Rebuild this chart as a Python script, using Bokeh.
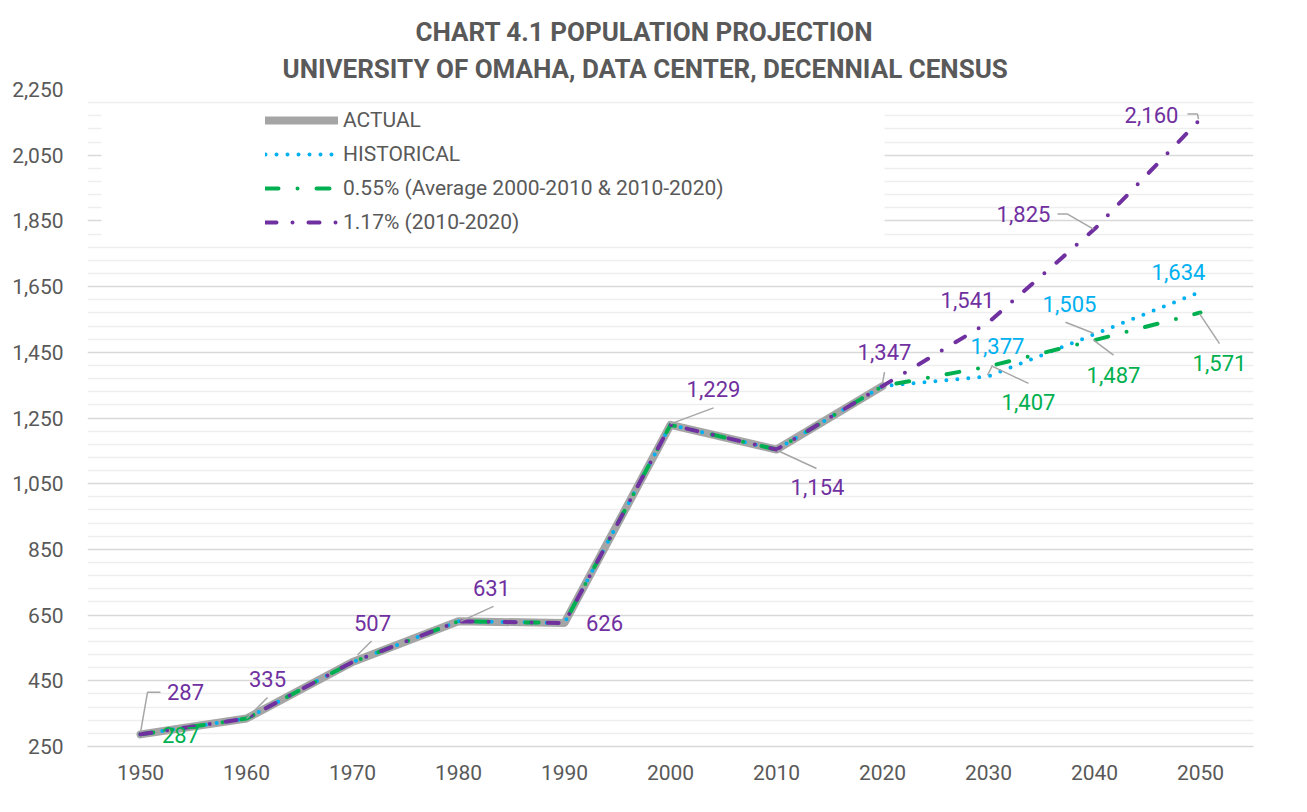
from bokeh.plotting import figure
from bokeh.models import (Range1d, FixedTicker, NumeralTickFormatter, ColumnDataSource,
                          LabelSet, Legend, LegendItem, BoxAnnotation, Title)
from bokeh.embed import file_html
from bokeh.resources import INLINE
from bokeh.core.properties import value

# ---------------- data ----------------
years = [1950, 1960, 1970, 1980, 1990, 2000, 2010, 2020, 2030, 2040, 2050]
actual = [287, 335, 507, 631, 626, 1229, 1154, 1347]
historical = [287, 335, 507, 631, 626, 1229, 1154, 1347, 1377, 1505, 1634]
avg055 = [287, 335, 507, 631, 626, 1229, 1154, 1347, 1407, 1487, 1571]
rate117 = [287, 335, 507, 631, 626, 1229, 1154, 1347, 1541, 1825, 2160]
y_ticks = [250, 450, 650, 850, 1050, 1250, 1450, 1650, 1850, 2050, 2250]
series_names = ["ACTUAL", "HISTORICAL", "0.55% (Average 2000-2010 & 2010-2020)", "1.17% (2010-2020)"]
title_lines = ["CHART 4.1 POPULATION PROJECTION", "UNIVERSITY OF OMAHA, DATA CENTER, DECENNIAL CENSUS"]

# ---------------- style ----------------
GREY_TXT = "#595959"
C_ACT = "#A5A5A5"
C_HIST = "#00B0F0"
C_AVG = "#00B050"
C_RATE = "#7030A0"
FONT = "Roboto"

FW, FH = 1166, 657          # frame size in px
X0, X1 = 1945, 2055
Y0, Y1 = 250, 2250
PX_X = (X1 - X0) / FW
PX_Y = (Y1 - Y0) / FH

y_minor = [t + 40 * k for t in y_ticks[:-1] for k in range(1, 5)]

p = figure(width=1291, height=796, x_range=Range1d(X0, X1), y_range=Range1d(Y0, Y1),
           output_backend="svg", toolbar_location=None,
           min_border_left=87, min_border_right=38, min_border_top=89, min_border_bottom=50)
p.outline_line_color = None
p.background_fill_color = "white"
p.border_fill_color = "white"

# y axis
p.yaxis.ticker = FixedTicker(ticks=y_ticks, minor_ticks=y_minor)
p.yaxis.formatter = NumeralTickFormatter(format="0,0")
p.yaxis.axis_line_color = None
p.yaxis.major_tick_line_color = None
p.yaxis.minor_tick_line_color = None
p.yaxis.major_tick_out = 0
p.yaxis.minor_tick_out = 0
p.yaxis.major_label_standoff = 24
p.yaxis.major_label_text_font = FONT
p.yaxis.major_label_text_font_size = "21px"
p.yaxis.major_label_text_color = GREY_TXT
p.ygrid.grid_line_color = "#D9D9D9"
p.ygrid.grid_line_width = 1.5
p.ygrid.minor_grid_line_color = "#EEEEEE"
p.ygrid.minor_grid_line_width = 1.5

# x axis
p.xaxis.ticker = FixedTicker(ticks=years)
p.xaxis.axis_line_color = "#D9D9D9"
p.xaxis.axis_line_width = 1.5
p.xaxis.major_tick_line_color = None
p.xaxis.minor_tick_line_color = None
p.xaxis.major_tick_out = 0
p.xaxis.minor_tick_out = 0
p.xaxis.major_label_standoff = 18
p.xaxis.major_label_text_font = FONT
p.xaxis.major_label_text_font_size = "21px"
p.xaxis.major_label_text_color = GREY_TXT
p.xgrid.grid_line_color = None

# lines
r_act = p.line(years[:len(actual)], actual, line_color=C_ACT, line_width=8,
               line_cap="round", line_join="round")
r_hist = p.line(years, historical, line_color=C_HIST, line_width=4,
                line_dash="0 11", line_cap="round", line_join="round")
r_avg = p.line(years, avg055, line_color=C_AVG, line_width=4,
               line_dash="13 19 0 19", line_cap="round", line_join="round")
r_rate = p.line(years, rate117, line_color=C_RATE, line_width=4,
                line_dash="11 16 0 16", line_cap="round", line_join="round")

series = {"historical": historical, "avg055": avg055, "rate117": rate117}
colors = {"historical": C_HIST, "avg055": C_AVG, "rate117": C_RATE}

# data labels: (series, index, dx px, dy px (down))
label_specs = [
    ("rate117", 0, 45, -42), ("avg055", 0, 40, 1),
    ("rate117", 1, 21, -40), ("rate117", 2, 20, -39),
    ("rate117", 3, 33, -33), ("rate117", 4, 40, 0),
    ("rate117", 5, 43, -36), ("rate117", 6, 41, 37),
    ("rate117", 7, 2, -34), ("rate117", 8, -21, -22),
    ("historical", 8, 9, -30), ("avg055", 8, 40, 36),
    ("historical", 9, -25, -30), ("avg055", 9, 19, 35),
    ("rate117", 9, -71, -15), ("historical", 10, -22, -20),
    ("avg055", 10, 19, 50), ("rate117", 10, -49, -4),
]
# leader lines: list of pixel offsets (dx, dy down) from the data point
leaders = {
    ("rate117", 0): [(0, -2), (7, -42), (20, -42)],
    ("rate117", 1): [(0, 0), (21, -21)],
    ("rate117", 2): [(5, -7), (19, -21)],
    ("rate117", 3): [(2, 0), (35, -15)],
    ("rate117", 5): [(0, -1), (43, -17)],
    ("rate117", 6): [(1, 1), (40, 19)],
    ("rate117", 7): [(0, -3), (2, -14)],
    ("historical", 8): [(-1, -1), (4, -11)],
    ("avg055", 8): [(4, 0), (40, 17)],
    ("historical", 9): [(-1, -1), (-29, -12)],
    ("avg055", 9): [(-1, 0), (19, 15)],
    ("rate117", 9): [(-1, 0), (-27, -15), (-37, -15)],
    ("avg055", 10): [(-1, 1), (19, 31)],
    ("rate117", 10): [(-2, 0), (-3, -5), (-13, -5)],
}

lx, ly, lt, lc, lxo, lyo = [], [], [], [], [], []
for s, i, dx, dy in label_specs:
    v = series[s][i]
    lx.append(years[i]); ly.append(v); lt.append(f"{v:,}"); lc.append(colors[s])
    lxo.append(dx); lyo.append(-dy)

xs, ys = [], []
for (s, i), pts in leaders.items():
    v = series[s][i]
    xs.append([years[i] + dx * PX_X for dx, dy in pts])
    ys.append([v - dy * PX_Y for dx, dy in pts])
p.multi_line(xs, ys, line_color="#A6A6A6", line_width=1.5)

lsrc = ColumnDataSource(dict(x=lx, y=ly, text=lt, color=lc, xo=lxo, yo=lyo))
p.add_layout(LabelSet(x="x", y="y", text="text", source=lsrc, x_offset="xo", y_offset="yo",
                      text_color="color", text_font=value(FONT), text_font_size="22px",
                      text_align="center", text_baseline="middle"))

# legend background box
box = BoxAnnotation(left=14, right=797, top=642, bottom=501,
                    left_units="screen", right_units="screen", top_units="screen", bottom_units="screen",
                    fill_color="white", fill_alpha=1.0, line_color=None)
p.add_layout(box)

legend = Legend(items=[LegendItem(label=series_names[0], renderers=[r_act]),
                       LegendItem(label=series_names[1], renderers=[r_hist]),
                       LegendItem(label=series_names[2], renderers=[r_avg]),
                       LegendItem(label=series_names[3], renderers=[r_rate])],
                location=(178, 512), glyph_width=73, glyph_height=24, label_height=24,
                label_standoff=5, spacing=10, padding=0, margin=0,
                border_line_color=None, background_fill_alpha=0,
                label_text_font=FONT, label_text_font_size="21px", label_text_color=GREY_TXT)
p.add_layout(legend, "center")

# title (second line added first: nearest to the plot); left offsets from frame edge
title_offsets = [328, 195]
title_standoffs = [0, 11]
for txt, off, so in reversed(list(zip(title_lines, title_offsets, title_standoffs))):
    p.add_layout(Title(text=txt, align="left", offset=off, text_font=FONT, text_font_style="bold",
                       text_font_size="26px", text_color=GREY_TXT, standoff=so), "above")

open("out.html", "w").write(file_html(p, INLINE))
